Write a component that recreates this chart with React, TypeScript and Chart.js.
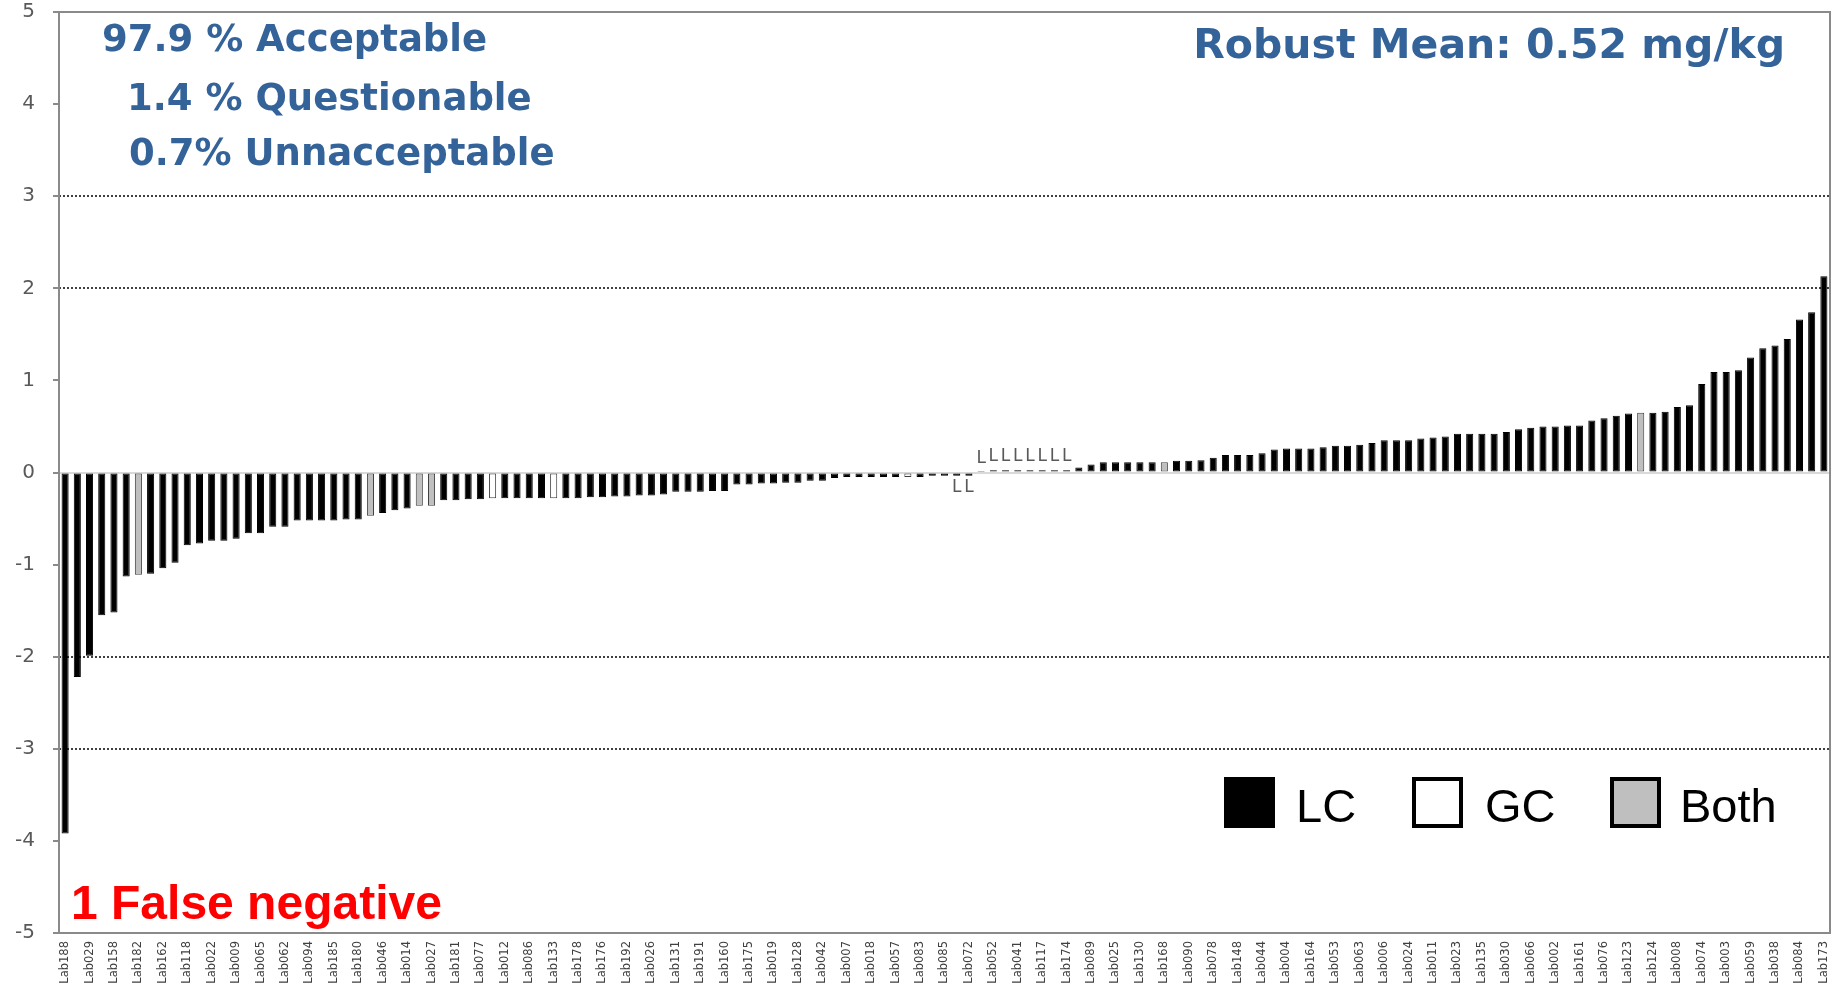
import React, { useEffect, useRef } from "react";
import { Chart, registerables } from "chart.js";

Chart.register(...registerables);

// Lab names printed under every other bar (the others are hidden by the original chart)
const visibleLabs: string[] = [
  "Lab188", "Lab029", "Lab158", "Lab182", "Lab162", "Lab118", "Lab022", "Lab009", "Lab065", "Lab062",
  "Lab094", "Lab185", "Lab180", "Lab046", "Lab014", "Lab027", "Lab181", "Lab077", "Lab012", "Lab086",
  "Lab133", "Lab178", "Lab176", "Lab192", "Lab026", "Lab131", "Lab191", "Lab160", "Lab175", "Lab019",
  "Lab128", "Lab042", "Lab007", "Lab018", "Lab057", "Lab083", "Lab085", "Lab072", "Lab052", "Lab041",
  "Lab117", "Lab174", "Lab089", "Lab025", "Lab130", "Lab168", "Lab090", "Lab078", "Lab148", "Lab044",
  "Lab004", "Lab164", "Lab053", "Lab063", "Lab006", "Lab024", "Lab011", "Lab023", "Lab135", "Lab030",
  "Lab066", "Lab002", "Lab161", "Lab076", "Lab123", "Lab124", "Lab008", "Lab074", "Lab003", "Lab059",
  "Lab038", "Lab084", "Lab173",
];

// z-scores, one per laboratory (sorted)
const zScores: number[] = [
  -3.92, -2.22, -1.99, -1.55, -1.52, -1.13, -1.11, -1.10, -1.04, -0.98,
  -0.79, -0.77, -0.74, -0.74, -0.72, -0.66, -0.66, -0.59, -0.59, -0.52,
  -0.52, -0.52, -0.52, -0.51, -0.51, -0.47, -0.44, -0.41, -0.39, -0.36,
  -0.36, -0.30, -0.30, -0.29, -0.29, -0.28, -0.28, -0.28, -0.28, -0.28,
  -0.28, -0.28, -0.28, -0.27, -0.27, -0.26, -0.26, -0.25, -0.25, -0.24,
  -0.21, -0.21, -0.21, -0.20, -0.20, -0.13, -0.13, -0.12, -0.12, -0.11,
  -0.11, -0.09, -0.09, -0.06, -0.05, -0.05, -0.05, -0.05, -0.05, -0.05,
  -0.05, -0.035, -0.035, -0.035, -0.035, 0.005, 0.025, 0.025, 0.025, 0.025,
  0.025, 0.025, 0.025, 0.054, 0.087, 0.11, 0.11, 0.11, 0.11, 0.11,
  0.11, 0.127, 0.127, 0.134, 0.16, 0.19, 0.19, 0.19, 0.21, 0.25,
  0.26, 0.26, 0.26, 0.275, 0.29, 0.29, 0.30, 0.32, 0.35, 0.35,
  0.35, 0.37, 0.38, 0.39, 0.42, 0.42, 0.42, 0.42, 0.44, 0.47,
  0.485, 0.50, 0.50, 0.51, 0.51, 0.565, 0.59, 0.615, 0.64, 0.65,
  0.65, 0.66, 0.71, 0.73, 0.96, 1.09, 1.09, 1.11, 1.25, 1.35,
  1.38, 1.45, 1.66, 1.74, 2.13,
];

// analytical technique used by each laboratory
const technique: string[] = [
  "LC", "LC", "LC", "LC", "LC", "LC", "Both", "LC", "LC", "LC",
  "LC", "LC", "LC", "LC", "LC", "LC", "LC", "LC", "LC", "LC",
  "LC", "LC", "LC", "LC", "LC", "Both", "LC", "LC", "LC", "Both",
  "Both", "LC", "LC", "LC", "LC", "GC", "LC", "LC", "LC", "LC",
  "GC", "LC", "LC", "LC", "LC", "LC", "LC", "LC", "LC", "LC",
  "LC", "LC", "LC", "LC", "LC", "LC", "LC", "LC", "LC", "LC",
  "LC", "LC", "LC", "LC", "LC", "LC", "LC", "LC", "LC", "GC",
  "LC", "LC", "LC", "LC", "LC", "LC", "LC", "LC", "LC", "LC",
  "LC", "LC", "LC", "LC", "LC", "LC", "LC", "LC", "LC", "LC",
  "Both", "LC", "LC", "LC", "LC", "LC", "LC", "LC", "LC", "LC",
  "LC", "LC", "LC", "LC", "LC", "LC", "LC", "LC", "LC", "LC",
  "LC", "LC", "LC", "LC", "LC", "LC", "LC", "LC", "LC", "LC",
  "LC", "LC", "LC", "LC", "LC", "LC", "LC", "LC", "LC", "Both",
  "LC", "LC", "LC", "LC", "LC", "LC", "LC", "LC", "LC", "LC",
  "LC", "LC", "LC", "LC", "LC",
];

// bars flagged with an "L" marker
const flaggedBars: number[] = [73, 74, 75, 76, 77, 78, 79, 80, 81, 82];
const flagText = "L";

const yMin = -5;
const yMax = 5;
const dottedLevels: number[] = [-3, -2, 2, 3];

const summaryLines: string[] = ["97.9 % Acceptable", "1.4 % Questionable", "0.7% Unnacceptable"];
const meanText = "Robust Mean: 0.52 mg/kg";
const falseNegText = "1 False negative";
const legendItems: string[] = ["LC", "GC", "Both"];

const fillFor: Record<string, string> = { LC: "#000000", GC: "#ffffff", Both: "#bfbfbf" };
const edgeFor: Record<string, string> = { LC: "#000000", GC: "#404040", Both: "#404040" };

const categories = zScores.map((_, i) => (i % 2 === 0 ? visibleLabs[i / 2] ?? "" : ""));

const BLUE = "#34639a";

export default function App() {
  const ref = useRef<HTMLCanvasElement>(null);

  useEffect(() => {
    if (!ref.current) return;
    const framePlugin = {
      id: "frame",
      afterDraw(chart: any) {
        const { ctx, chartArea } = chart;
        ctx.save();
        ctx.strokeStyle = "#8a8a8a";
        ctx.lineWidth = 2;
        ctx.strokeRect(chartArea.left, chartArea.top, chartArea.right - chartArea.left, chartArea.bottom - chartArea.top);
        ctx.restore();
      },
    };
    const flagPlugin = {
      id: "flags",
      afterDatasetsDraw(chart: any) {
        const { ctx } = chart;
        const meta = chart.getDatasetMeta(0);
        ctx.save();
        ctx.fillStyle = "#595959";
        ctx.font = "17px 'DejaVu Sans'";
        ctx.textAlign = "center";
        flaggedBars.forEach((i) => {
          const el = meta.data[i];
          if (!el) return;
          const v = zScores[i];
          if (v >= 0) {
            ctx.textBaseline = "bottom";
            ctx.fillText(flagText, el.x, el.y - 5);
          } else {
            ctx.textBaseline = "top";
            ctx.fillText(flagText, el.x, el.y + 3);
          }
        });
        ctx.restore();
      },
    };

    const chart = new Chart(ref.current, {
      type: "bar",
      data: {
        labels: categories,
        datasets: [
          {
            data: zScores,
            backgroundColor: technique.map((t) => fillFor[t]),
            borderColor: technique.map((t) => edgeFor[t]),
            borderWidth: 1,
            borderSkipped: false,
            barPercentage: 0.58,
            categoryPercentage: 1,
          },
        ],
      },
      options: {
        responsive: false,
        animation: false,
        layout: { padding: { top: 12, right: 15, left: 0, bottom: 0 } },
        plugins: { legend: { display: false }, tooltip: { enabled: false } },
        scales: {
          x: {
            grid: { display: false, drawTicks: false },
            border: { display: false },
            ticks: {
              autoSkip: false,
              maxRotation: 90,
              minRotation: 90,
              color: "#404040",
              font: { family: "'DejaVu Sans'", size: 11.5 },
              padding: 8,
            },
            afterFit: (s: any) => {
              s.height = 61;
              s.paddingLeft = 0;
              s.paddingRight = 0;
            },
          },
          y: {
            min: yMin,
            max: yMax,
            ticks: {
              stepSize: 1,
              color: "#595959",
              font: { family: "'DejaVu Sans'", size: 20 },
              padding: 18,
            },
            grid: {
              color: (c: any) => {
                const v = c.tick?.value;
                if (v === 0) return "#d9d9d9";
                if (dottedLevels.includes(v)) return "#404040";
                return "rgba(0,0,0,0)";
              },
              lineWidth: (c: any) => 2,
              tickColor: "#8a8a8a",
              tickLength: 6,
            },
            border: {
              display: false,
              dash: (c: any) => (c.tick && c.tick.value !== 0 ? [2, 2] : []),
            },
            afterFit: (s: any) => {
              s.width = 59;
              s.paddingTop = 0;
              s.paddingBottom = 0;
            },
          },
        },
      },
      plugins: [framePlugin, flagPlugin],
    } as any);
    return () => chart.destroy();
  }, []);

  const blueStyle: React.CSSProperties = {
    position: "absolute",
    color: BLUE,
    fontFamily: "'DejaVu Sans', sans-serif",
    fontWeight: "bold",
    fontSize: 37,
    lineHeight: "37px",
    whiteSpace: "pre",
  };
  const legendText: React.CSSProperties = {
    position: "absolute",
    fontFamily: "'Liberation Sans', Arial, sans-serif",
    fontSize: 47,
    lineHeight: "47px",
    color: "#000",
    top: 782,
  };
  const swatch = (left: number, bg: string, bordered: boolean): React.CSSProperties => ({
    position: "absolute",
    left,
    top: 777,
    width: 51,
    height: 51,
    boxSizing: "border-box",
    background: bg,
    border: bordered ? "4px solid #000" : "none",
  });

  return (
    <div style={{ position: "fixed", left: 0, top: 0, width: 1845, height: 994, background: "#fff", overflow: "hidden" }}>
      <canvas ref={ref} width={1845} height={994} style={{ position: "absolute", left: 0, top: 0 }} />
      <div style={{ ...blueStyle, left: 102, top: 20 }}>{summaryLines[0]}</div>
      <div style={{ ...blueStyle, left: 127, top: 79 }}>{summaryLines[1]}</div>
      <div style={{ ...blueStyle, left: 129, top: 134 }}>{summaryLines[2]}</div>
      <div style={{ ...blueStyle, fontSize: 41, lineHeight: "41px", right: 1845 - 1785, top: 24 }}>{meanText}</div>
      <div
        style={{
          position: "absolute",
          left: 71,
          top: 879,
          color: "#ff0000",
          fontFamily: "'Liberation Sans', Arial, sans-serif",
          fontWeight: "bold",
          fontSize: 48,
          lineHeight: "48px",
          whiteSpace: "pre",
        }}
      >
        {falseNegText}
      </div>
      <div style={swatch(1224, fillFor.LC, false)} />
      <div style={{ ...legendText, left: 1296 }}>{legendItems[0]}</div>
      <div style={swatch(1412, fillFor.GC, true)} />
      <div style={{ ...legendText, left: 1485 }}>{legendItems[1]}</div>
      <div style={swatch(1610, fillFor.Both, true)} />
      <div style={{ ...legendText, left: 1680 }}>{legendItems[2]}</div>
    </div>
  );
}
